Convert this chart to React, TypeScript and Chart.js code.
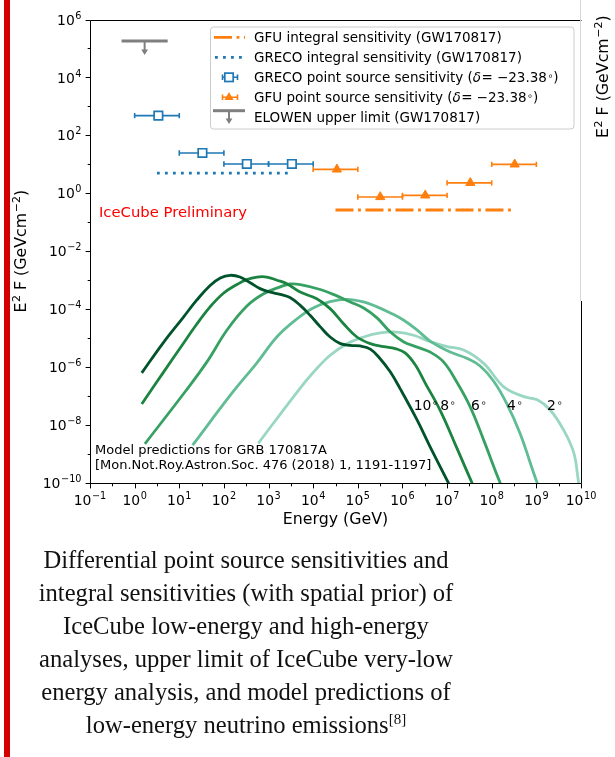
import React, { useEffect, useRef } from "react";
import { Chart, registerables } from "chart.js";

Chart.register(...registerables);

const SANS = '"DejaVu Sans", "Liberation Sans", sans-serif';
const BLUE = "#1f77b4";
const ORANGE = "#ff7f0e";
const GREY = "#7f7f7f";

// ---------- model predictions (GRB 170817A), log10(E/GeV) and log10(E^2 F / GeV cm^-2) ----------
const angleLabels = ["10", "8", "6", "4", "2"];
const curveColors = ["#00532a", "#1b8440", "#37a163", "#5fbc93", "#9ad7c2"];

const logE_10deg = [0.16, 0.64, 1.09, 1.39, 1.69, 1.92, 2.14, 2.36, 2.59, 2.81, 3.04, 3.26, 3.48, 3.71, 3.93, 4.16, 4.38, 4.61, 4.83, 5.05, 5.28, 5.5, 5.73, 5.95, 6.33, 6.62, 7.03, 7.18];
const logF_10deg = [-6.2, -5.16, -4.28, -3.69, -3.18, -2.92, -2.83, -2.89, -3.09, -3.29, -3.41, -3.49, -3.6, -3.87, -4.21, -4.61, -4.96, -5.19, -5.25, -5.27, -5.38, -5.71, -6.17, -6.75, -7.83, -8.75, -10.0, -10.45];

const logE_8deg = [0.16, 0.35, 0.64, 1.02, 1.39, 1.69, 1.99, 2.29, 2.51, 2.74, 2.96, 3.19, 3.41, 3.71, 4.08, 4.38, 4.68, 4.98, 5.28, 5.58, 5.84, 6.06, 6.29, 6.51, 6.85, 7.21, 7.56, 7.7];
const logF_8deg = [-7.27, -6.84, -6.19, -5.34, -4.52, -3.92, -3.45, -3.15, -2.98, -2.89, -2.89, -3.0, -3.12, -3.41, -3.64, -3.98, -4.5, -4.96, -5.19, -5.29, -5.36, -5.51, -5.93, -6.55, -7.51, -8.76, -10.0, -10.45];

const logE_6deg = [0.23, 1.13, 1.62, 2.07, 2.51, 2.89, 3.26, 3.48, 3.71, 4.16, 4.53, 4.83, 5.13, 5.43, 5.73, 6.03, 6.33, 6.62, 6.92, 7.23, 7.52, 7.82, 8.19, 8.33];
const logF_6deg = [-8.65, -6.85, -5.82, -4.72, -3.9, -3.47, -3.23, -3.13, -3.15, -3.32, -3.54, -3.75, -3.96, -4.3, -4.79, -5.13, -5.31, -5.48, -5.82, -6.55, -7.38, -8.52, -10.0, -10.45];

const logE_4deg = [1.3, 2.21, 2.74, 3.19, 3.64, 4.01, 4.38, 4.76, 5.13, 5.43, 5.73, 6.03, 6.33, 6.62, 7.07, 7.45, 7.74, 8.04, 8.34, 8.64, 9.02, 9.16];
const logF_4deg = [-8.69, -6.84, -5.85, -4.95, -4.33, -3.95, -3.74, -3.66, -3.75, -3.92, -4.13, -4.38, -4.72, -5.1, -5.48, -5.7, -5.96, -6.48, -7.27, -8.31, -10.0, -10.45];

const logE_2deg = [2.77, 3.67, 4.01, 4.38, 4.76, 5.13, 5.5, 5.88, 6.25, 6.62, 7.0, 7.37, 7.82, 8.27, 8.72, 9.02, 9.31, 9.61, 9.84, 9.95, 10.01];
const logF_2deg = [-8.63, -6.8, -6.17, -5.59, -5.19, -4.96, -4.82, -4.79, -4.9, -5.12, -5.29, -5.41, -5.87, -6.68, -7.02, -7.13, -7.48, -8.17, -8.97, -10.0, -10.31];

// angle label anchors (data coords)
const angleLabelE = [1.78e6, 7.0e6, 3.45e7, 2.2e8, 1.74e9];
const angleLabelF = 3.3e-8;

// ---------- GRECO point source sensitivity ----------
const grecoE = [3.4, 33, 326, 3330];
const grecoLo = [1, 10, 100, 1000];
const grecoHi = [10, 100, 1000, 10000];
const grecoF = [479, 24.7, 10.3, 10.3];

// ---------- GFU point source sensitivity ----------
const gfuE = [3.4e4, 3.18e5, 3.24e6, 3.31e7, 3.27e8];
const gfuLo = [1e4, 1e5, 1e6, 1e7, 1e8];
const gfuHi = [1e5, 1e6, 1e7, 1e8, 1e9];
const gfuF = [6.7, 0.75, 0.85, 2.3, 10];

// ---------- integral sensitivities ----------
const grecoIntE = [3.16, 3162];
const grecoIntF = [5.0, 5.0];
const gfuIntE = [3.16e4, 3.16e8];
const gfuIntF = [0.265, 0.265];

// ---------- ELOWEN upper limit ----------
const elowenE = [0.51, 5.5];
const elowenF = [1.8e5, 1.8e5];
const elowenArrowTipF = 5.9e4;

// ---------- ticks ----------
const xTickExps = [-1, 0, 1, 2, 3, 4, 5, 6, 7, 8, 9, 10];
const yTickExps = [6, 4, 2, 0, -2, -4, -6, -8, -10];
const yMinorExps = [5, 3, 1, -1, -3, -5, -7, -9];

const legendLabels = [
  "GFU integral sensitivity (GW170817)",
  "GRECO integral sensitivity (GW170817)",
  "GRECO point source sensitivity (",
  "GFU point source sensitivity (",
  "ELOWEN upper limit (GW170817)",
];

const captionLines = [
  "Differential point source sensitivities and",
  "integral sensitivities (with spatial prior) of",
  "IceCube low-energy and high-energy",
  "analyses, upper limit of IceCube very-low",
  "energy analysis, and model predictions of",
  "low-energy neutrino emissions",
];

type Piece = { t: string; size: number; dy?: number; italic?: boolean; pre?: number };

function setFont(ctx: CanvasRenderingContext2D, p: Piece) {
  ctx.font = `${p.italic ? "italic " : ""}${p.size}px ${SANS}`;
}
function richWidth(ctx: CanvasRenderingContext2D, ps: Piece[]) {
  let w = 0;
  for (const p of ps) {
    setFont(ctx, p);
    w += (p.pre || 0) + ctx.measureText(p.t).width;
  }
  return w;
}
function drawRich(ctx: CanvasRenderingContext2D, ps: Piece[], x: number, y: number, align = "left") {
  const w = richWidth(ctx, ps);
  let cx = align === "center" ? x - w / 2 : align === "right" ? x - w : x;
  ctx.textAlign = "left";
  ctx.textBaseline = "alphabetic";
  for (const p of ps) {
    cx += p.pre || 0;
    setFont(ctx, p);
    ctx.fillText(p.t, cx, y - (p.dy || 0));
    cx += ctx.measureText(p.t).width;
  }
}
const expStr = (e: number) => (e < 0 ? "\u2212" + Math.abs(e) : String(e));
const powPieces = (e: number): Piece[] => [
  { t: "10", size: 13.9 },
  { t: expStr(e), size: 9.7, dy: 6, pre: 0.6 },
];

function hErr(ctx: CanvasRenderingContext2D, x1: number, x2: number, y: number, cap: number) {
  ctx.beginPath();
  ctx.moveTo(x1, y);
  ctx.lineTo(x2, y);
  ctx.moveTo(x1, y - cap);
  ctx.lineTo(x1, y + cap);
  ctx.moveTo(x2, y - cap);
  ctx.lineTo(x2, y + cap);
  ctx.stroke();
}
function downArrow(ctx: CanvasRenderingContext2D, x: number, y0: number, tip: number) {
  ctx.strokeStyle = GREY;
  ctx.fillStyle = GREY;
  ctx.lineWidth = 2;
  ctx.beginPath();
  ctx.moveTo(x, y0);
  ctx.lineTo(x, tip - 4);
  ctx.stroke();
  ctx.beginPath();
  ctx.moveTo(x - 3.4, tip - 5.5);
  ctx.lineTo(x + 3.4, tip - 5.5);
  ctx.lineTo(x, tip);
  ctx.closePath();
  ctx.fill();
}

const decor = {
  id: "decor",
  beforeDatasetsDraw(chart: any) {
    const ctx: CanvasRenderingContext2D = chart.ctx;
    const xs = chart.scales.x;
    const ys = chart.scales.y;
    ctx.save();
    ctx.lineWidth = 1.6;
    ctx.strokeStyle = BLUE;
    grecoE.forEach((_, i) =>
      hErr(ctx, xs.getPixelForValue(grecoLo[i]), xs.getPixelForValue(grecoHi[i]), ys.getPixelForValue(grecoF[i]), 2.7)
    );
    ctx.strokeStyle = ORANGE;
    gfuE.forEach((_, i) =>
      hErr(ctx, xs.getPixelForValue(gfuLo[i]), xs.getPixelForValue(gfuHi[i]), ys.getPixelForValue(gfuF[i]), 2.7)
    );
    ctx.restore();
  },
  afterDatasetsDraw(chart: any) {
    const ctx: CanvasRenderingContext2D = chart.ctx;
    const xs = chart.scales.x;
    const ys = chart.scales.y;
    ctx.save();
    const cx = xs.getPixelForValue(Math.sqrt(elowenE[0] * elowenE[1]));
    downArrow(ctx, cx, ys.getPixelForValue(elowenF[0]), ys.getPixelForValue(elowenArrowTipF));
    ctx.restore();
  },
  afterDraw(chart: any) {
    const ctx: CanvasRenderingContext2D = chart.ctx;
    const xs = chart.scales.x;
    const ys = chart.scales.y;
    const a = chart.chartArea;
    ctx.save();
    ctx.fillStyle = "#000";
    ctx.strokeStyle = "#000";
    ctx.lineWidth = 1;

    // spines
    const L = Math.round(a.left) + 0.5;
    const R = Math.round(a.right) + 0.5;
    const T = Math.round(a.top) + 0.5;
    const B = Math.round(a.bottom) + 0.5;
    ctx.beginPath();
    ctx.moveTo(L, T);
    ctx.lineTo(L, B);
    ctx.lineTo(R, B);
    ctx.lineTo(R, 301);
    ctx.moveTo(L, T);
    ctx.lineTo(R, T);
    ctx.stroke();
    // neighbouring panel edge
    ctx.strokeStyle = "#d6d6d6";
    ctx.beginPath();
    ctx.moveTo(R - 1, 0);
    ctx.lineTo(R - 1, 301);
    ctx.stroke();
    ctx.strokeStyle = "#000";

    // x ticks
    ctx.beginPath();
    for (const e of xTickExps) {
      const px = Math.round(xs.getPixelForValue(Math.pow(10, e))) + 0.5;
      ctx.moveTo(px, B);
      ctx.lineTo(px, B + 4.9);
    }
    for (const e of xTickExps.slice(0, -1)) {
      const px = Math.round(xs.getPixelForValue(Math.pow(10, e + 0.5))) + 0.5;
      ctx.moveTo(px, B);
      ctx.lineTo(px, B + 2.8);
    }
    // y ticks
    for (const e of yTickExps) {
      const py = Math.round(ys.getPixelForValue(Math.pow(10, e))) + 0.5;
      ctx.moveTo(L, py);
      ctx.lineTo(L - 4.9, py);
    }
    for (const e of yMinorExps) {
      const py = Math.round(ys.getPixelForValue(Math.pow(10, e))) + 0.5;
      ctx.moveTo(L, py);
      ctx.lineTo(L - 2.8, py);
    }
    ctx.stroke();

    // tick labels
    for (const e of xTickExps) {
      drawRich(ctx, powPieces(e), xs.getPixelForValue(Math.pow(10, e)), 505.3, "center");
    }
    for (const e of yTickExps) {
      drawRich(ctx, powPieces(e), 81.5, ys.getPixelForValue(Math.pow(10, e)) + 5.1, "right");
    }

    // axis titles
    drawRich(ctx, [{ t: "Energy (GeV)", size: 15.8 }], (a.left + a.right) / 2, 524.3, "center");
    const yLab: Piece[] = [
      { t: "E", size: 15.8 },
      { t: "2", size: 11, dy: 6.5, pre: 0.6 },
      { t: " F (GeVcm", size: 15.8 },
      { t: "\u22122", size: 11, dy: 6.5, pre: 0.6 },
      { t: ")", size: 15.8 },
    ];
    ctx.save();
    ctx.translate(26.3, (a.top + a.bottom) / 2);
    ctx.rotate(-Math.PI / 2);
    drawRich(ctx, yLab, 0, 0, "center");
    ctx.restore();
    // neighbouring panel's label (cut at the top)
    ctx.save();
    ctx.translate(608.3, 138);
    ctx.rotate(-Math.PI / 2);
    drawRich(ctx, yLab, 0, 0, "left");
    ctx.restore();

    // annotations
    ctx.fillStyle = "#ff0000";
    drawRich(ctx, [{ t: "IceCube Preliminary", size: 14.8 }], 99, 216.7, "left");
    ctx.fillStyle = "#000";
    drawRich(ctx, [{ t: "Model predictions for GRB 170817A", size: 13 }], 95, 454.3, "left");
    drawRich(ctx, [{ t: "[Mon.Not.Roy.Astron.Soc. 476 (2018) 1, 1191-1197]", size: 13 }], 95, 468.8, "left");
    angleLabels.forEach((lab, i) => {
      drawRich(
        ctx,
        [
          { t: lab, size: 13.9 },
          { t: "\u2218", size: 9.7, dy: 3.8, pre: 0.8 },
        ],
        xs.getPixelForValue(angleLabelE[i]),
        ys.getPixelForValue(angleLabelF),
        "left"
      );
    });

    // legend
    const lx = 210.5, ly = 27, lw = 363.5, lh = 102;
    ctx.fillStyle = "rgba(255,255,255,0.8)";
    ctx.strokeStyle = "#cccccc";
    ctx.lineWidth = 1;
    ctx.beginPath();
    (ctx as any).roundRect(lx, ly, lw, lh, 3);
    ctx.fill();
    ctx.stroke();
    const rows = [37.3, 57.3, 77.3, 97.3, 116.7];
    const h0 = 213, h1 = 245, hc = 229;
    // row 1: dash-dot orange
    ctx.save();
    ctx.beginPath();
    ctx.rect(h0, rows[0] - 4, h1 - h0, 8);
    ctx.clip();
    ctx.strokeStyle = ORANGE;
    ctx.lineWidth = 2.8;
    ctx.setLineDash([18, 4.6, 2.8, 4.6]);
    ctx.beginPath();
    ctx.moveTo(h0 + 1, rows[0]);
    ctx.lineTo(h1 + 10, rows[0]);
    ctx.stroke();
    ctx.restore();
    // row 2: dotted blue
    ctx.save();
    ctx.strokeStyle = BLUE;
    ctx.lineWidth = 2.8;
    ctx.setLineDash([2.8, 5.2]);
    ctx.beginPath();
    ctx.moveTo(h0 + 2, rows[1]);
    ctx.lineTo(h1, rows[1]);
    ctx.stroke();
    ctx.restore();
    // row 3: GRECO errorbar + square
    ctx.lineWidth = 1.6;
    ctx.strokeStyle = BLUE;
    hErr(ctx, 222.5, 237.5, rows[2], 2.7);
    ctx.fillStyle = "#fff";
    ctx.lineWidth = 1.7;
    ctx.fillRect(hc - 4.2, rows[2] - 4.2, 8.4, 8.4);
    ctx.strokeRect(hc - 4.2, rows[2] - 4.2, 8.4, 8.4);
    // row 4: GFU errorbar + triangle
    ctx.lineWidth = 1.6;
    ctx.strokeStyle = ORANGE;
    hErr(ctx, 222.5, 237.5, rows[3], 2.7);
    ctx.fillStyle = ORANGE;
    ctx.beginPath();
    ctx.moveTo(hc, rows[3] - 5.3);
    ctx.lineTo(hc + 4.6, rows[3] + 2.65);
    ctx.lineTo(hc - 4.6, rows[3] + 2.65);
    ctx.closePath();
    ctx.fill();
    // row 5: ELOWEN bar + arrow
    ctx.strokeStyle = GREY;
    ctx.lineWidth = 3;
    ctx.beginPath();
    ctx.moveTo(h0, 110.7);
    ctx.lineTo(h1, 110.7);
    ctx.stroke();
    downArrow(ctx, hc, 110.7, 124);
    // legend texts
    ctx.fillStyle = "#000";
    const FS = 13.5;
    drawRich(ctx, [{ t: legendLabels[0], size: FS }], 254, rows[0] + 4.9);
    drawRich(ctx, [{ t: legendLabels[1], size: FS }], 254, rows[1] + 4.9);
    const deltaTail: Piece[] = [
      { t: "\u03b4", size: FS, italic: true },
      { t: "=", size: FS, pre: 0.5 },
      { t: "\u221223.38", size: FS, pre: 4 },
      { t: "\u2218", size: 9.5, dy: 3.6, pre: 0.5 },
      { t: ")", size: FS },
    ];
    drawRich(ctx, [{ t: legendLabels[2], size: FS }, ...deltaTail], 254, rows[2] + 4.9);
    drawRich(ctx, [{ t: legendLabels[3], size: FS }, ...deltaTail], 254, rows[3] + 4.9);
    drawRich(ctx, [{ t: legendLabels[4], size: FS }], 254, rows[4] + 4.9);

    ctx.restore();
  },
};

const toPts = (lx: number[], ly: number[]) => lx.map((v, i) => ({ x: Math.pow(10, v), y: Math.pow(10, ly[i]) }));

export default function App() {
  const ref = useRef<HTMLCanvasElement>(null);
  useEffect(() => {
    const canvas = ref.current;
    if (!canvas) return;
    const curves = [
      [logE_10deg, logF_10deg],
      [logE_8deg, logF_8deg],
      [logE_6deg, logF_6deg],
      [logE_4deg, logF_4deg],
      [logE_2deg, logF_2deg],
    ];
    const datasets: any[] = [
      {
        label: "GFU point source sensitivity",
        data: gfuE.map((e, i) => ({ x: e, y: gfuF[i] })),
        showLine: false,
        pointStyle: "triangle",
        pointRadius: 5.3,
        backgroundColor: ORANGE,
        borderColor: ORANGE,
        borderWidth: 1,
      },
      {
        label: "GRECO point source sensitivity",
        data: grecoE.map((e, i) => ({ x: e, y: grecoF[i] })),
        showLine: false,
        pointStyle: "rect",
        pointRadius: 6,
        backgroundColor: "#ffffff",
        borderColor: BLUE,
        borderWidth: 1.7,
      },
      {
        label: "ELOWEN upper limit",
        data: elowenE.map((e, i) => ({ x: e, y: elowenF[i] })),
        borderColor: GREY,
        borderWidth: 3,
        pointRadius: 0,
      },
      {
        label: "GFU integral sensitivity",
        data: gfuIntE.map((e, i) => ({ x: e, y: gfuIntF[i] })),
        borderColor: ORANGE,
        borderWidth: 2.8,
        borderDash: [18, 4.6, 2.8, 4.6],
        pointRadius: 0,
      },
      {
        label: "GRECO integral sensitivity",
        data: grecoIntE.map((e, i) => ({ x: e, y: grecoIntF[i] })),
        borderColor: BLUE,
        borderWidth: 2.8,
        borderDash: [2.8, 5.2],
        pointRadius: 0,
      },
      ...curves.map(([lx, ly], i) => ({
        label: angleLabels[i] + " deg",
        data: toPts(lx, ly),
        borderColor: curveColors[i],
        borderWidth: 2.8,
        pointRadius: 0,
        tension: 0.4,
        borderJoinStyle: "round",
        clip: 0,
      })),
    ];
    const chart = new Chart(canvas, {
      type: "line",
      data: { datasets },
      options: {
        animation: false,
        responsive: false,
        devicePixelRatio: 1,
        layout: { padding: { left: 90, top: 19.5, right: 34, bottom: 47 } },
        scales: {
          x: { type: "logarithmic", min: 0.1, max: 1e10, display: false },
          y: { type: "logarithmic", min: 1e-10, max: 1e6, display: false },
        },
        plugins: { legend: { display: false }, tooltip: { enabled: false } },
      },
      plugins: [decor],
    } as any);
    return () => chart.destroy();
  }, []);

  return (
    <div style={{ position: "absolute", left: 0, top: 0, width: 615, height: 757, background: "#fff", overflow: "hidden" }}>
      <canvas ref={ref} width={615} height={530} style={{ position: "absolute", left: 0, top: 0, width: 615, height: 530 }} />
      <div style={{ position: "absolute", left: 4, top: 0, width: 5.5, height: 757, background: "#d20000" }} />
      <div
        style={{
          position: "absolute",
          left: 0,
          top: 544.3,
          width: 492,
          textAlign: "center",
          fontFamily: '"Liberation Serif", serif',
          fontSize: 24.6,
          lineHeight: "32.9px",
          color: "#111",
          whiteSpace: "nowrap",
        }}
      >
        {captionLines.map((l, i) => (
          <div key={i}>
            {l}
            {i === captionLines.length - 1 ? (
              <span style={{ fontSize: 15, position: "relative", top: -9 }}>[8]</span>
            ) : null}
          </div>
        ))}
      </div>
    </div>
  );
}
